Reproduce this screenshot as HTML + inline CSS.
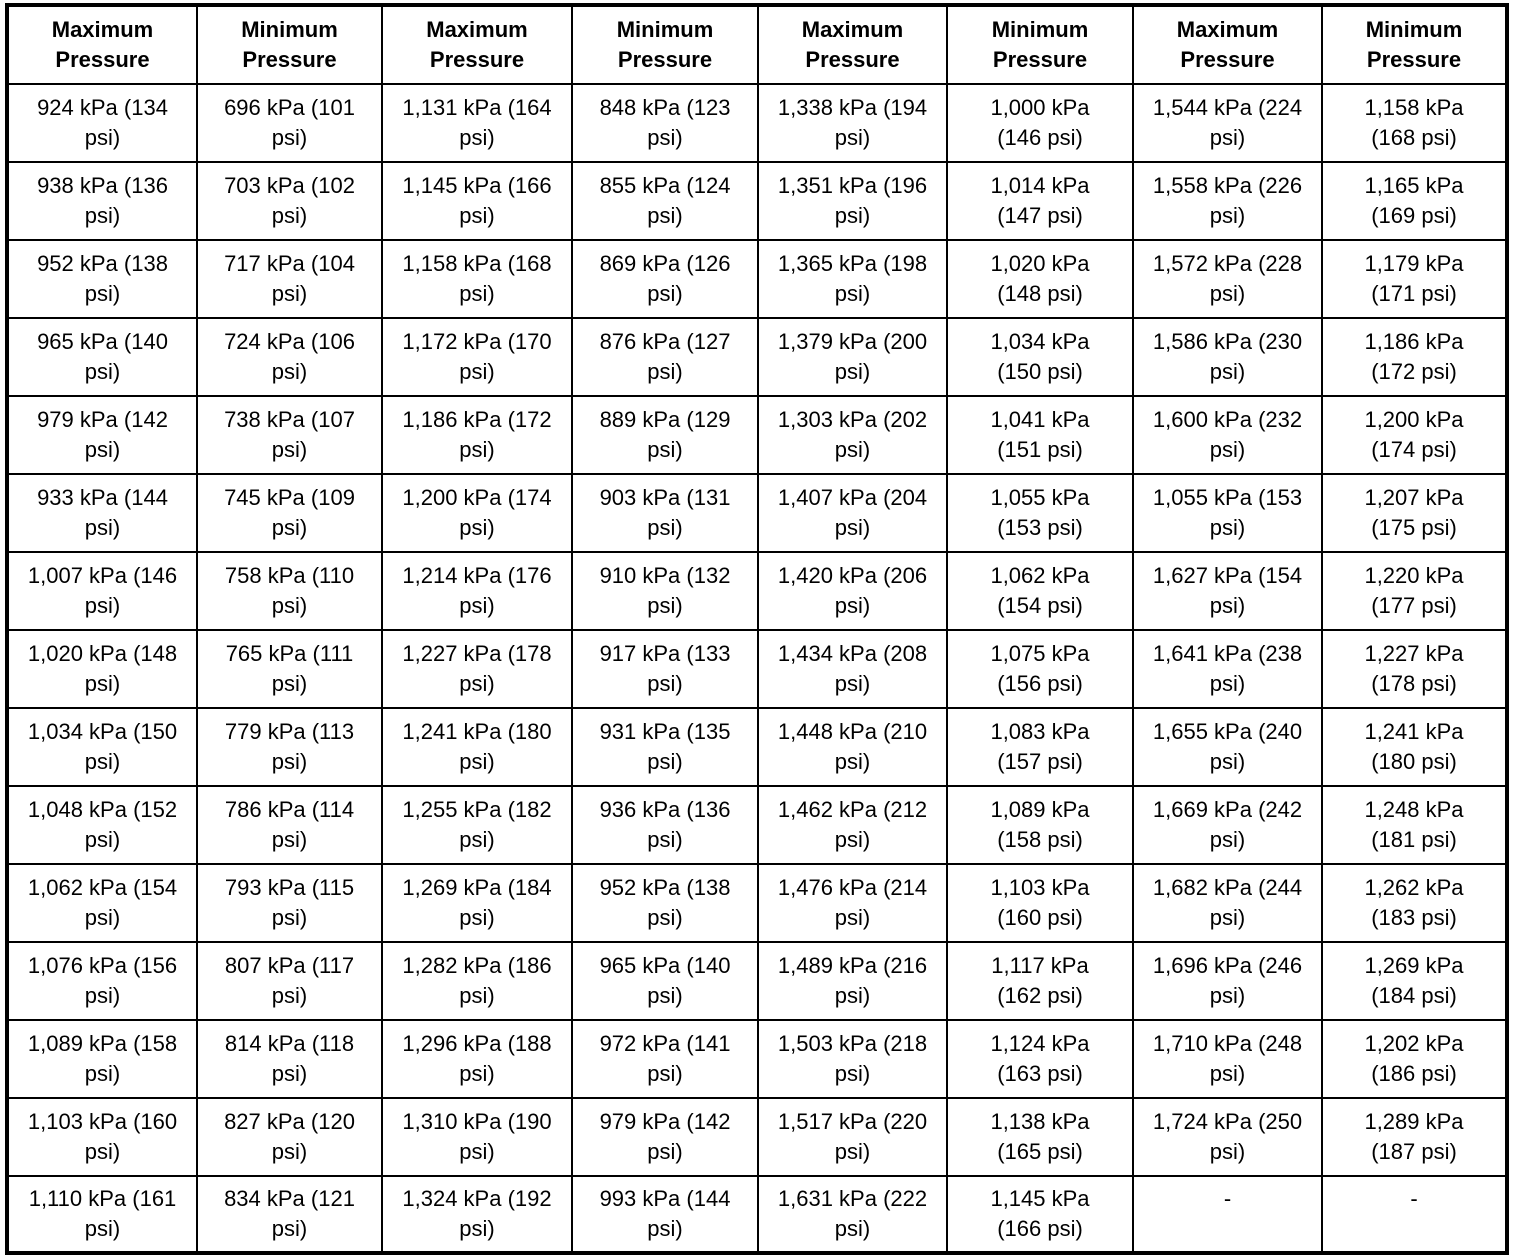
<!DOCTYPE html>
<html><head><meta charset="utf-8"><style>
html,body{margin:0;padding:0;background:#fff;width:1520px;height:1260px;overflow:hidden}
table{position:absolute;left:5px;top:3px;border-collapse:collapse;table-layout:fixed;border:4px solid #000;font-family:"Liberation Sans",Arial,sans-serif;font-size:22px;color:#000}
td,th{border:2px solid #000;text-align:center;vertical-align:middle;padding:0;line-height:30px;height:76px;overflow:hidden}
th{font-weight:bold}
tr.last td{height:74px}
</style></head><body>
<table>
<colgroup><col style="width:190px"><col style="width:185px"><col style="width:190px"><col style="width:186px"><col style="width:189px"><col style="width:186px"><col style="width:189px"><col style="width:185px"></colgroup>
<tr><th>Maximum<br>Pressure</th><th>Minimum<br>Pressure</th><th>Maximum<br>Pressure</th><th>Minimum<br>Pressure</th><th>Maximum<br>Pressure</th><th>Minimum<br>Pressure</th><th>Maximum<br>Pressure</th><th>Minimum<br>Pressure</th></tr>
<tr><td>924 kPa (134<br>psi)</td><td>696 kPa (101<br>psi)</td><td>1,131 kPa (164<br>psi)</td><td>848 kPa (123<br>psi)</td><td>1,338 kPa (194<br>psi)</td><td>1,000 kPa<br>(146 psi)</td><td>1,544 kPa (224<br>psi)</td><td>1,158 kPa<br>(168 psi)</td></tr>
<tr><td>938 kPa (136<br>psi)</td><td>703 kPa (102<br>psi)</td><td>1,145 kPa (166<br>psi)</td><td>855 kPa (124<br>psi)</td><td>1,351 kPa (196<br>psi)</td><td>1,014 kPa<br>(147 psi)</td><td>1,558 kPa (226<br>psi)</td><td>1,165 kPa<br>(169 psi)</td></tr>
<tr><td>952 kPa (138<br>psi)</td><td>717 kPa (104<br>psi)</td><td>1,158 kPa (168<br>psi)</td><td>869 kPa (126<br>psi)</td><td>1,365 kPa (198<br>psi)</td><td>1,020 kPa<br>(148 psi)</td><td>1,572 kPa (228<br>psi)</td><td>1,179 kPa<br>(171 psi)</td></tr>
<tr><td>965 kPa (140<br>psi)</td><td>724 kPa (106<br>psi)</td><td>1,172 kPa (170<br>psi)</td><td>876 kPa (127<br>psi)</td><td>1,379 kPa (200<br>psi)</td><td>1,034 kPa<br>(150 psi)</td><td>1,586 kPa (230<br>psi)</td><td>1,186 kPa<br>(172 psi)</td></tr>
<tr><td>979 kPa (142<br>psi)</td><td>738 kPa (107<br>psi)</td><td>1,186 kPa (172<br>psi)</td><td>889 kPa (129<br>psi)</td><td>1,303 kPa (202<br>psi)</td><td>1,041 kPa<br>(151 psi)</td><td>1,600 kPa (232<br>psi)</td><td>1,200 kPa<br>(174 psi)</td></tr>
<tr><td>933 kPa (144<br>psi)</td><td>745 kPa (109<br>psi)</td><td>1,200 kPa (174<br>psi)</td><td>903 kPa (131<br>psi)</td><td>1,407 kPa (204<br>psi)</td><td>1,055 kPa<br>(153 psi)</td><td>1,055 kPa (153<br>psi)</td><td>1,207 kPa<br>(175 psi)</td></tr>
<tr><td>1,007 kPa (146<br>psi)</td><td>758 kPa (110<br>psi)</td><td>1,214 kPa (176<br>psi)</td><td>910 kPa (132<br>psi)</td><td>1,420 kPa (206<br>psi)</td><td>1,062 kPa<br>(154 psi)</td><td>1,627 kPa (154<br>psi)</td><td>1,220 kPa<br>(177 psi)</td></tr>
<tr><td>1,020 kPa (148<br>psi)</td><td>765 kPa (111<br>psi)</td><td>1,227 kPa (178<br>psi)</td><td>917 kPa (133<br>psi)</td><td>1,434 kPa (208<br>psi)</td><td>1,075 kPa<br>(156 psi)</td><td>1,641 kPa (238<br>psi)</td><td>1,227 kPa<br>(178 psi)</td></tr>
<tr><td>1,034 kPa (150<br>psi)</td><td>779 kPa (113<br>psi)</td><td>1,241 kPa (180<br>psi)</td><td>931 kPa (135<br>psi)</td><td>1,448 kPa (210<br>psi)</td><td>1,083 kPa<br>(157 psi)</td><td>1,655 kPa (240<br>psi)</td><td>1,241 kPa<br>(180 psi)</td></tr>
<tr><td>1,048 kPa (152<br>psi)</td><td>786 kPa (114<br>psi)</td><td>1,255 kPa (182<br>psi)</td><td>936 kPa (136<br>psi)</td><td>1,462 kPa (212<br>psi)</td><td>1,089 kPa<br>(158 psi)</td><td>1,669 kPa (242<br>psi)</td><td>1,248 kPa<br>(181 psi)</td></tr>
<tr><td>1,062 kPa (154<br>psi)</td><td>793 kPa (115<br>psi)</td><td>1,269 kPa (184<br>psi)</td><td>952 kPa (138<br>psi)</td><td>1,476 kPa (214<br>psi)</td><td>1,103 kPa<br>(160 psi)</td><td>1,682 kPa (244<br>psi)</td><td>1,262 kPa<br>(183 psi)</td></tr>
<tr><td>1,076 kPa (156<br>psi)</td><td>807 kPa (117<br>psi)</td><td>1,282 kPa (186<br>psi)</td><td>965 kPa (140<br>psi)</td><td>1,489 kPa (216<br>psi)</td><td>1,117 kPa<br>(162 psi)</td><td>1,696 kPa (246<br>psi)</td><td>1,269 kPa<br>(184 psi)</td></tr>
<tr><td>1,089 kPa (158<br>psi)</td><td>814 kPa (118<br>psi)</td><td>1,296 kPa (188<br>psi)</td><td>972 kPa (141<br>psi)</td><td>1,503 kPa (218<br>psi)</td><td>1,124 kPa<br>(163 psi)</td><td>1,710 kPa (248<br>psi)</td><td>1,202 kPa<br>(186 psi)</td></tr>
<tr><td>1,103 kPa (160<br>psi)</td><td>827 kPa (120<br>psi)</td><td>1,310 kPa (190<br>psi)</td><td>979 kPa (142<br>psi)</td><td>1,517 kPa (220<br>psi)</td><td>1,138 kPa<br>(165 psi)</td><td>1,724 kPa (250<br>psi)</td><td>1,289 kPa<br>(187 psi)</td></tr>
<tr class="last"><td>1,110 kPa (161<br>psi)</td><td>834 kPa (121<br>psi)</td><td>1,324 kPa (192<br>psi)</td><td>993 kPa (144<br>psi)</td><td>1,631 kPa (222<br>psi)</td><td>1,145 kPa<br>(166 psi)</td><td>-<br>&nbsp;</td><td>-<br>&nbsp;</td></tr>
</table>
</body></html>
